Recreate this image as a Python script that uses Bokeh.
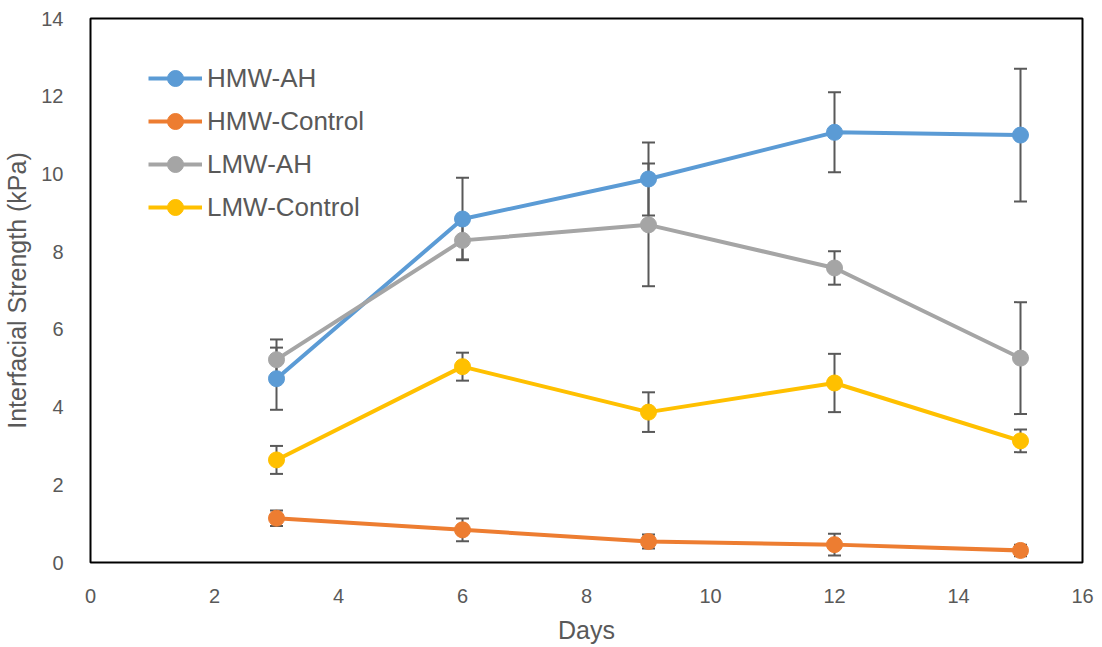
from bokeh.plotting import figure
from bokeh.models import ColumnDataSource, Whisker, TeeHead, Legend, LegendItem, FixedTicker
from bokeh.embed import file_html
from bokeh.resources import INLINE

days = [3, 6, 9, 12, 15]
hmw_ah = [4.73, 8.84, 9.87, 11.07, 11.00]
hmw_ah_err = [0.80, 1.06, 0.94, 1.03, 1.71]
hmw_ctrl = [1.14, 0.84, 0.54, 0.46, 0.31]
hmw_ctrl_err = [0.20, 0.29, 0.18, 0.28, 0.15]
lmw_ah = [5.22, 8.29, 8.69, 7.58, 5.26]
lmw_ah_err = [0.52, 0.49, 1.58, 0.43, 1.44]
lmw_ctrl = [2.64, 5.04, 3.87, 4.62, 3.13]
lmw_ctrl_err = [0.36, 0.36, 0.51, 0.75, 0.29]

series = [
    ("HMW-AH", hmw_ah, hmw_ah_err, "#5B9BD5"),
    ("HMW-Control", hmw_ctrl, hmw_ctrl_err, "#ED7D31"),
    ("LMW-AH", lmw_ah, lmw_ah_err, "#A5A5A5"),
    ("LMW-Control", lmw_ctrl, lmw_ctrl_err, "#FFC000"),
]

FONT = "Liberation Sans"
GREY = "#595959"

p = figure(width=1102, height=647, x_range=(0, 16), y_range=(0, 14),
           output_backend="svg", toolbar_location=None,
           min_border_left=90, min_border_right=20, min_border_top=18, min_border_bottom=85)
p.xgrid.visible = False
p.ygrid.visible = False
p.outline_line_color = "black"
p.outline_line_width = 2
p.background_fill_color = "white"
p.border_fill_color = "white"

for ax in (p.xaxis[0], p.yaxis[0]):
    ax.axis_line_color = None
    ax.major_tick_line_color = None
    ax.minor_tick_line_color = None
    ax.major_label_text_font = FONT
    ax.major_label_text_font_size = "20px"
    ax.major_label_text_color = GREY
    ax.axis_label_text_font = FONT
    ax.axis_label_text_font_size = "25px"
    ax.axis_label_text_font_style = "normal"
    ax.axis_label_text_color = GREY

p.xaxis.ticker = FixedTicker(ticks=list(range(0, 17, 2)))
p.yaxis.ticker = FixedTicker(ticks=list(range(0, 15, 2)))
p.xaxis.axis_label = "Days"
p.yaxis.axis_label = "Interfacial Strength (kPa)"
p.xaxis.major_label_standoff = 20
p.yaxis.major_label_standoff = 21
p.xaxis.axis_label_standoff = 10
p.yaxis.axis_label_standoff = 7

items = []
for name, vals, errs, color in series:
    src = ColumnDataSource(dict(
        x=days, y=vals,
        upper=[v + e for v, e in zip(vals, errs)],
        lower=[v - e for v, e in zip(vals, errs)],
    ))
    w = Whisker(source=src, base="x", upper="upper", lower="lower",
                line_color=GREY, line_width=2,
                upper_head=TeeHead(size=13, line_color=GREY, line_width=2),
                lower_head=TeeHead(size=13, line_color=GREY, line_width=2))
    p.add_layout(w)
    r1 = p.line("x", "y", source=src, line_color=color, line_width=4)
    r2 = p.scatter("x", "y", source=src, size=16, fill_color=color, line_color=color)
    items.append(LegendItem(label=name, renderers=[r1, r2]))

legend = Legend(items=items, location=(58, 335),
                label_text_font=FONT, label_text_font_size="26px",
                label_text_color=GREY, glyph_width=54, glyph_height=40,
                label_height=40, spacing=3, padding=0, margin=0,
                border_line_color=None, background_fill_alpha=0,
                label_standoff=5)
p.add_layout(legend, "center")

open("out.html", "w").write(file_html(p, INLINE))
